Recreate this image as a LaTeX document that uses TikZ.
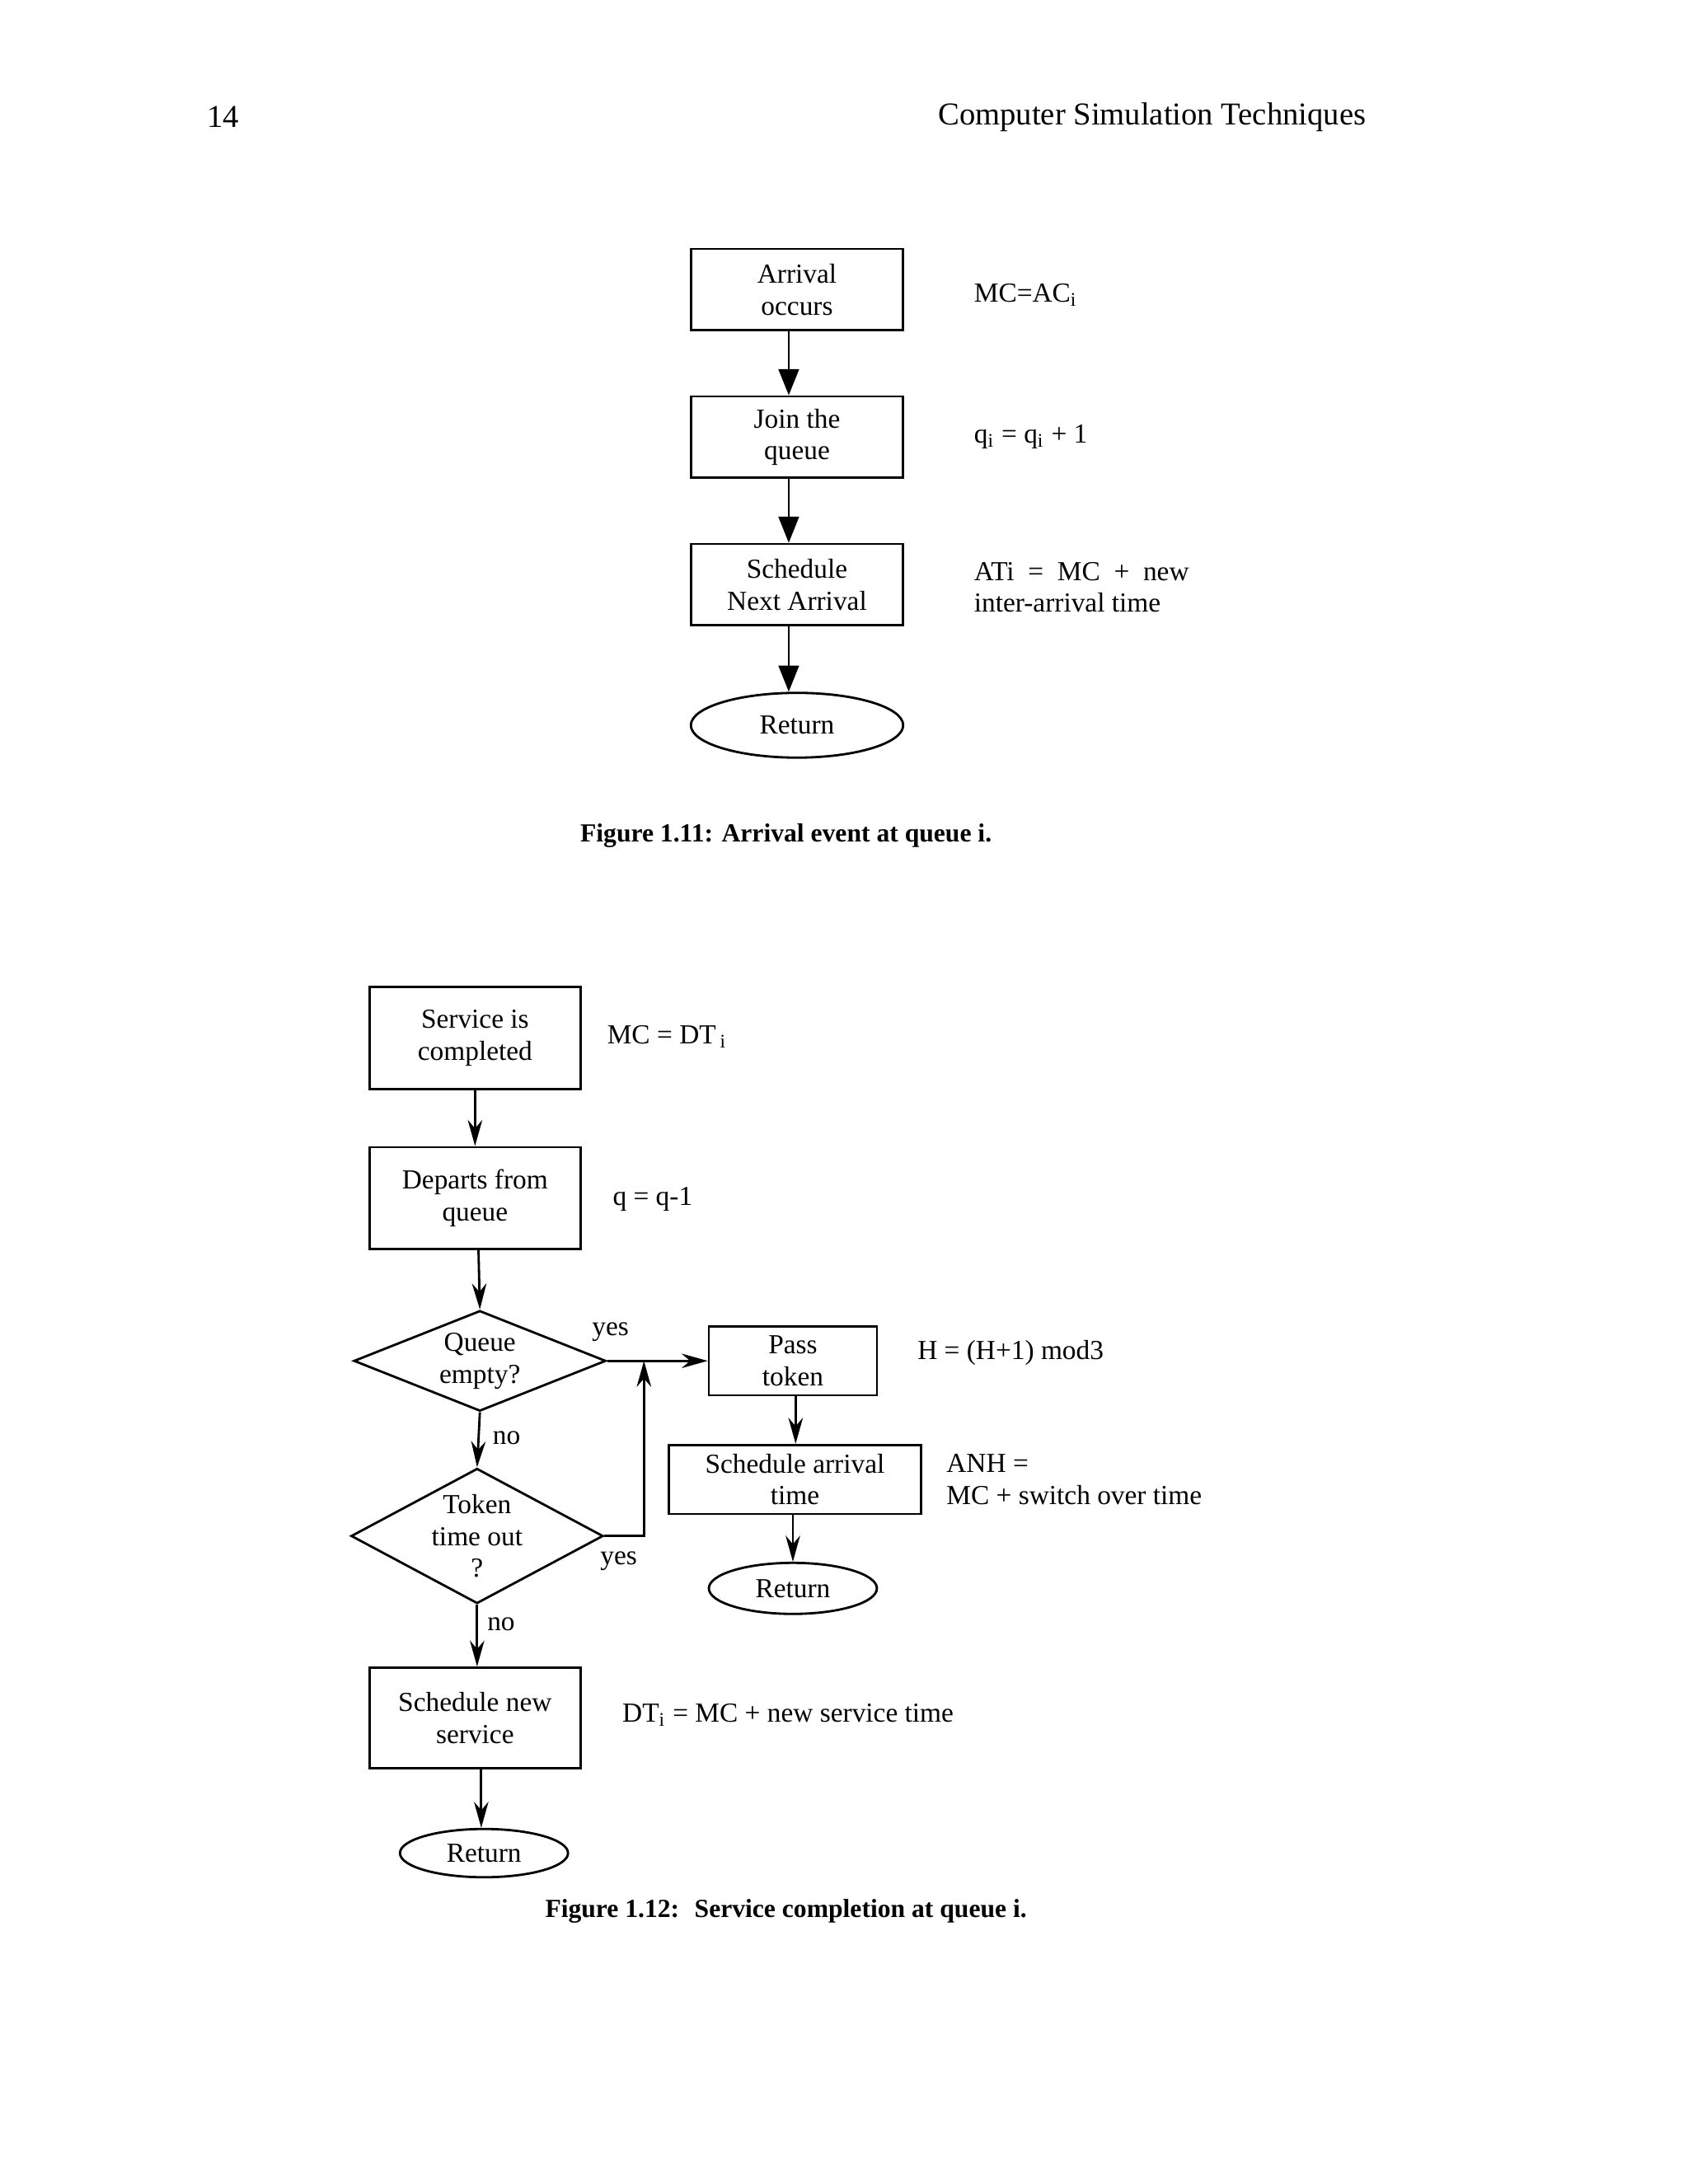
\documentclass[tikz,border=0pt]{standalone}
\usepackage{fontspec}
\setmainfont{Liberation Serif}
\usetikzlibrary{shapes,arrows.meta}

\tikzset{
  box/.style={draw,thick,rectangle,minimum width=#1,align=center,inner sep=0pt},
  dia/.style={draw,thick,diamond,aspect=1.9,align=center,inner sep=0pt},
  term/.style={draw,thick,ellipse,align=center,inner sep=0pt},
  lbl/.style={anchor=west,align=left,inner sep=0pt},
  big/.style={-{Triangle[length=9pt,width=7pt]},thick},
  thin/.style={-{Stealth[length=9pt,width=5pt]},thick},
}

\begin{document}
\begin{tikzpicture}[x=0.016732cm,y=-0.016732cm,font=\fontsize{9.5}{11}\selectfont]
\useasboundingbox (0,0) rectangle (1224,1584);
% page header
\node[anchor=west,font=\fontsize{11}{13}\selectfont] at (143,85) (pg) {14};
\node[anchor=east,font=\fontsize{11}{13}\selectfont] at (998,85) (hd) {Computer Simulation Techniques};

% figure 1.11
\node[box=154\pgflinewidth/\pgflinewidth*0.016732cm,minimum width=2.577cm,minimum height=0.987cm] at (578,210) (arr) {Arrival\\occurs};
\node[box=2.577cm,minimum width=2.577cm,minimum height=0.987cm] at (578,317) (join) {Join the\\queue};
\node[box=2.577cm,minimum width=2.577cm,minimum height=0.987cm] at (578,424) (next) {Schedule\\Next Arrival};
\node[term,minimum width=2.577cm,minimum height=0.786cm] at (578,526) (ret) {Return};
\draw[big] (arr.south -| 572,0) -- (join.north -| 572,0);
\draw[big] (join.south -| 572,0) -- (next.north -| 572,0);
\draw[big] (next.south -| 572,0) -- (ret.north -| 572,0);
\node[lbl] at (706,214) (mc) {MC=AC$_{\mathrm{i}}$};
\node[lbl] at (706,317) (qi) {q$_{\mathrm{i}}$ = q$_{\mathrm{i}}$ + 1};
\node[lbl,text width=3.3cm,align=justify] at (706,426) (ati) {ATi \ = \ MC \ + \ new\\inter-arrival time};
\node[font=\fontsize{9}{11}\selectfont\bfseries] at (570,606) (cap1) {Figure 1.11: Arrival event at queue i.};

% figure 1.12
\node[box=2.56cm,minimum width=2.56cm,minimum height=1.238cm] at (344.5,753) (svc) {Service is\\completed};
\node[box=2.56cm,minimum width=2.56cm,minimum height=1.238cm] at (344.5,869) (dep) {Departs from\\queue};
\node[dia,minimum width=3.06cm,minimum height=1.22cm] at (348,987) (qe) {Queue\\empty?};
\node[dia,minimum width=3.06cm,minimum height=1.64cm,aspect=1.87] at (346,1114) (tt) {Token\\time out\\?};
\node[box=2.56cm,minimum width=2.56cm,minimum height=1.22cm] at (344.5,1246) (snew) {Schedule new\\service};
\node[term,minimum width=2.04cm,minimum height=0.586cm] at (351,1344) (ret2) {Return};
\node[box=2.04cm,minimum width=2.04cm,minimum height=0.837cm] at (575,987) (pass) {Pass\\token};
\node[box=3.06cm,minimum width=3.06cm,minimum height=0.837cm] at (576.5,1073) (sarr) {Schedule arrival\\time};
\node[term,minimum width=2.04cm,minimum height=0.62cm] at (575,1152) (ret3) {Return};
\coordinate (jn) at (467,987);
\draw[thin] (svc) -- (dep);
\draw[thin] (dep.south -| 347,0) -- (qe.north);
\draw[thin] (qe.east) -- (pass.west);
\draw[thin] (qe.south) -- (tt.north);
\draw[thin] (tt.east) -- (tt.east -| jn) -- (jn);
\draw[thin] (tt.south) -- (snew.north -| tt.south);
\draw[thin] (snew.south -| 349,0) -- (ret2.north -| 349,0);
\draw[thin] (pass.south -| 577,0) -- (sarr.north -| 577,0);
\draw[thin] (sarr.south -| 575,0) -- (ret3.north);
\node[lbl] at (429,966) (y1) {yes};
\node[lbl] at (435,1132) (y2) {yes};
\node[lbl] at (357,1043) (n1) {no};
\node[lbl] at (353,1178) (n2) {no};
\node[lbl] at (440,752) (mc2) {MC = DT$_{\,\mathrm{i}}$};
\node[lbl] at (444,870) (q2) {q = q-1};
\node[lbl] at (665,981) (h) {H = (H+1) mod3};
\node[lbl] at (686,1073) (anh) {ANH =\\MC + switch over time};
\node[lbl] at (451,1244) (dti) {DT$_{\mathrm{i}}$ = MC + new service time};
\node[font=\fontsize{9}{11}\selectfont\bfseries] at (570,1386) (cap2) {Figure 1.12: \ Service completion at queue i.};
\end{tikzpicture}
\end{document}
